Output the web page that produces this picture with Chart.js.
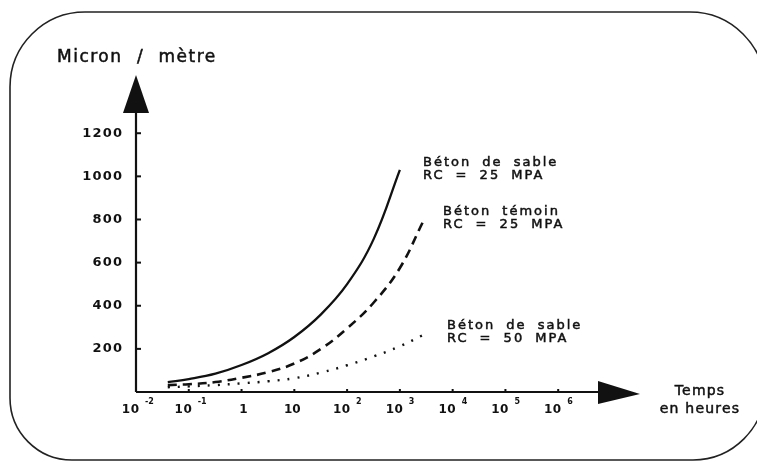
<!DOCTYPE html>
<html>
<head>
<meta charset="utf-8">
<script src="https://cdn.jsdelivr.net/npm/chart.js@4"></script>
<style>
  html, body { margin: 0; padding: 0; background: #fff; }
  canvas { display: block; }
</style>
</head>
<body>
<canvas id="chart" width="757" height="461"></canvas>
<script>
// time in hours, read along the log axis
const hours = [0.04, 0.1, 0.32, 1, 3.2, 10, 32, 100, 320, 1000, 2750]

// shrinkage in micron / metre
const sableRc25 = [46, 60, 85, 125, 180, 255, 360, 500, 710, 1030, null]
const temoinRc25 = [32, 36, 46, 66, 92, 132, 200, 295, 415, 575, 790]
const sableRc50 = [22, 26, 32, 40, 50, 64, 90, 124, 165, 212, 264]

const yTicks = [200, 400, 600, 800, 1000, 1200]
const xExponents = [-2, -1, 0, 1, 2, 3, 4, 5, 6]

const notes = [
  ['Béton de sable', 'RC = 25 MPA'],
  ['Béton témoin', 'RC = 25 MPA'],
  ['Béton de sable', 'RC = 50 MPA'],
]

const toPoints = (values) =>
  hours.map((h, i) => ({ x: h, y: values[i] })).filter((p) => p.y !== null)

const INK = '#111'

// fill plus a thin stroke, the lettering is a little heavier than the plain face
function text(ctx, str, x, y, font, align = 'left', spacing = 0, words = 0, weight = 0.5) {
  ctx.font = font
  ctx.letterSpacing = spacing + 'px'
  ctx.wordSpacing = words + 'px'
  ctx.textAlign = align
  ctx.textBaseline = 'middle'
  const tx = align === 'right' ? x + spacing : x
  ctx.fillText(str, tx, y)
  if (weight) {
    ctx.lineWidth = weight
    ctx.strokeText(str, tx, y)
  }
}

const drawing = {
  id: 'drawing',
  beforeDraw(chart) {
    const ctx = chart.ctx
    ctx.save()
    ctx.strokeStyle = '#222'
    ctx.lineWidth = 1.6
    ctx.beginPath()
    ctx.roundRect(10, 12, 755, 448, [75, 75, 72, 62])
    ctx.stroke()
    ctx.restore()
  },
  afterDatasetsDraw(chart) {
    const ctx = chart.ctx
    const { left, right, top, bottom } = chart.chartArea
    const xs = chart.scales.x
    const ys = chart.scales.y
    ctx.save()
    ctx.fillStyle = INK
    ctx.strokeStyle = INK

    // axes
    ctx.lineWidth = 2.2
    ctx.beginPath()
    ctx.moveTo(left, bottom)
    ctx.lineTo(left, top + 36)
    ctx.moveTo(left, bottom)
    ctx.lineTo(right - 40, bottom)
    ctx.stroke()

    // arrow heads
    ctx.beginPath()
    ctx.moveTo(left, top)
    ctx.lineTo(left - 13, top + 38)
    ctx.lineTo(left + 13, top + 38)
    ctx.closePath()
    ctx.fill()
    ctx.beginPath()
    ctx.moveTo(right, bottom + 2)
    ctx.lineTo(right - 42, bottom - 11)
    ctx.lineTo(right - 42, bottom + 12)
    ctx.closePath()
    ctx.fill()

    // y ticks and labels
    yTicks.forEach((v) => {
      const py = ys.getPixelForValue(v)
      ctx.fillRect(left, py - 1, 5, 2)
      text(ctx, String(v), left - 14, py, 'bold 13px "DejaVu Sans"', 'right', 1.2, 0, 0)
    })

    // x ticks and labels
    xExponents.forEach((e) => {
      const px = xs.getPixelForValue(Math.pow(10, e))
      if (e > -2) ctx.fillRect(px - 1, bottom - 3, 2, 3)
      const ly = bottom + 18
      const f = 'bold 12px "DejaVu Sans"'
      if (e === 0) {
        text(ctx, '1', px + 2, ly, f, 'center', 0, 0, 0)
      } else if (e === 1) {
        text(ctx, '10', px - 2, ly, f, 'center', 0, 0, 0)
      } else {
        text(ctx, '10', px + 3, ly, f, 'right', 0.5, 0, 0)
        text(ctx, String(e), px + 9, ly - 8, 'bold 8px "DejaVu Sans"', 'left', 0, 0, 0)
      }
    })

    // axis titles
    text(ctx, 'Micron / mètre', 57, 58, '17px "DejaVu Sans"', 'left', 1.5, 7.5)
    text(ctx, 'Temps', 700, 391, '14px "DejaVu Sans"', 'center', 1.2)
    text(ctx, 'en heures', 700, 409, '14px "DejaVu Sans"', 'center', 1.2)

    // curve notes
    const notePos = [[423, 163], [443, 212], [447, 326]]
    notes.forEach(([a, b], i) => {
      const [nx, ny] = notePos[i]
      text(ctx, a, nx, ny, '13px "DejaVu Sans"', 'left', 2, 5)
      text(ctx, b, nx, ny + 13, '13px "DejaVu Sans"', 'left', 2, 5)
    })
    ctx.restore()
  },
}

new Chart(document.getElementById('chart'), {
  type: 'line',
  data: {
    datasets: [
      {
        label: 'Béton de sable RC = 25 MPA',
        data: toPoints(sableRc25),
        borderColor: INK,
        borderWidth: 2.3,
        tension: 0.4,
      },
      {
        label: 'Béton témoin RC = 25 MPA',
        data: toPoints(temoinRc25),
        borderColor: INK,
        borderWidth: 2.6,
        borderDash: [9, 6],
        tension: 0.4,
      },
      {
        label: 'Béton de sable RC = 50 MPA',
        data: toPoints(sableRc50),
        borderColor: INK,
        borderWidth: 2.4,
        borderDash: [2, 8],
        tension: 0.4,
      },
    ],
  },
  options: {
    responsive: false,
    animation: false,
    devicePixelRatio: 1,
    layout: { padding: { left: 136, right: 117, top: 75, bottom: 69 } },
    elements: { point: { radius: 0 } },
    scales: {
      x: { type: 'logarithmic', min: 0.01, max: Math.pow(10, 7.55), display: false },
      y: { min: 0, max: 1470, display: false },
    },
    plugins: {
      legend: { display: false },
      tooltip: { enabled: false },
    },
  },
  plugins: [drawing],
})
</script>
</body>
</html>
